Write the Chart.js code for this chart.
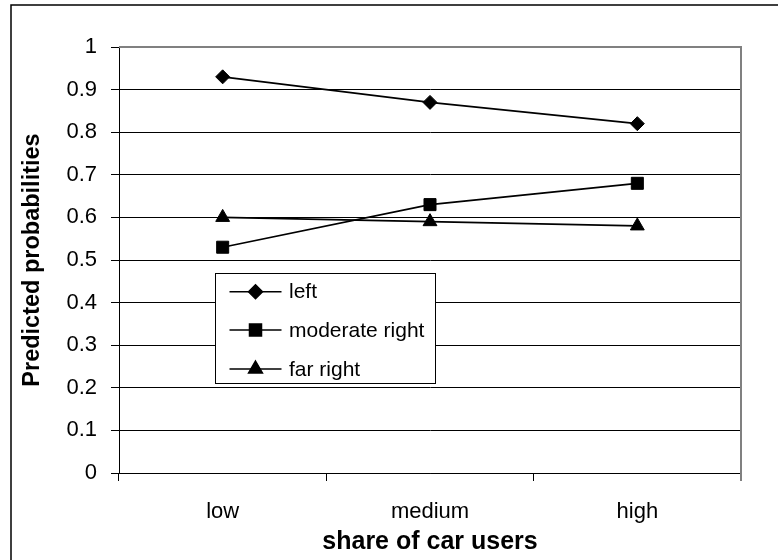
<!DOCTYPE html>
<html>
<head>
<meta charset="utf-8">
<script src="https://cdn.jsdelivr.net/npm/chart.js@4.4.0/dist/chart.umd.min.js"></script>
<style>
  html, body { margin: 0; padding: 0; background: #fff; }
  #wrap { width: 778px; height: 560px; position: relative; }
</style>
</head>
<body>
<div id="wrap"><canvas id="c" width="778" height="560"></canvas></div>
<script>
const categories = ['low', 'medium', 'high'];
const seriesNames = ['left', 'moderate right', 'far right'];
const leftValues = [0.93, 0.87, 0.82];
const moderateRightValues = [0.53, 0.63, 0.68];
const farRightValues = [0.60, 0.59, 0.58];
const yTicks = [0, 0.1, 0.2, 0.3, 0.4, 0.5, 0.6, 0.7, 0.8, 0.9, 1];
const xTitle = 'share of car users';
const yTitle = 'Predicted probabilities';

const FONT = "'Liberation Sans', Arial, sans-serif";

const frame = {
  id: 'frame',
  beforeDraw(chart) {
    const ctx = chart.ctx;
    ctx.save();
    ctx.fillStyle = '#fff';
    ctx.fillRect(0, 0, chart.width, chart.height);
    ctx.strokeStyle = '#000';
    ctx.lineWidth = 1.5;
    ctx.beginPath();
    ctx.moveTo(11, chart.height);
    ctx.lineTo(11, 5);
    ctx.lineTo(chart.width, 5);
    ctx.stroke();
    ctx.restore();
  },
  afterDraw(chart) {
    const ctx = chart.ctx;
    const a = chart.chartArea;
    ctx.save();
    ctx.strokeStyle = '#808080';
    ctx.lineWidth = 2;
    ctx.beginPath();
    ctx.moveTo(a.left, a.top);
    ctx.lineTo(a.right, a.top);
    ctx.lineTo(a.right, a.bottom + 8);
    ctx.stroke();
    ctx.restore();
  }
};

const legendBox = {
  id: 'legendBox',
  afterDatasetsDraw(chart) {
    const ctx = chart.ctx;
    const x0 = 215.5, y0 = 273.5, w = 220, h = 110;
    ctx.save();
    ctx.fillStyle = '#fff';
    ctx.fillRect(x0, y0, w, h);
    ctx.strokeStyle = '#000';
    ctx.lineWidth = 1;
    ctx.strokeRect(x0, y0, w, h);
    const rows = [291.7, 330, 369];
    chart.data.datasets.forEach((ds, i) => {
      const y = rows[i];
      ctx.strokeStyle = '#000';
      ctx.lineWidth = 1.5;
      ctx.beginPath();
      ctx.moveTo(229.5, y);
      ctx.lineTo(281.5, y);
      ctx.stroke();
      Chart.helpers.drawPoint(ctx, {
        pointStyle: ds.pointStyle,
        radius: ds.pointRadius,
        borderWidth: 1,
        rotation: 0
      }, 255.5, y);
      ctx.fillStyle = '#000';
      ctx.fill();
      ctx.font = '21px ' + FONT;
      ctx.textBaseline = 'middle';
      ctx.textAlign = 'left';
      ctx.fillStyle = '#000';
      ctx.fillText(ds.label, 289, y + 1);
    });
    ctx.restore();
  }
};

const mk = (label, data, style, r) => ({
  label, data,
  borderColor: '#000',
  backgroundColor: '#000',
  borderWidth: 1.7,
  pointStyle: style,
  pointRadius: r,
  pointHoverRadius: r,
  pointBackgroundColor: '#000',
  pointBorderColor: '#000',
  pointBorderWidth: 1,
  tension: 0,
  fill: false
});

new Chart(document.getElementById('c'), {
  type: 'line',
  data: {
    labels: categories,
    datasets: [
      mk(seriesNames[0], leftValues, 'rectRot', 7),
      mk(seriesNames[1], moderateRightValues, 'rect', 8.5),
      mk(seriesNames[2], farRightValues, 'triangle', 8)
    ]
  },
  options: {
    responsive: false,
    animation: false,
    devicePixelRatio: 1,
    layout: { padding: { left: 0, top: 47, right: 37, bottom: 0 } },
    plugins: {
      legend: { display: false },
      tooltip: { enabled: false },
      title: { display: false }
    },
    scales: {
      x: {
        type: 'category',
        offset: true,
        afterFit(s) { s.height = 87; },
        grid: {
          offset: true,
          drawOnChartArea: false,
          drawTicks: true,
          tickLength: 8,
          color: '#000',
          lineWidth: 1
        },
        border: { display: true, color: '#000', width: 1 },
        ticks: {
          color: '#000',
          font: { family: FONT, size: 22 },
          padding: 18,
          maxRotation: 0,
          autoSkip: false
        },
        title: {
          display: true,
          text: xTitle,
          color: '#000',
          font: { family: FONT, size: 25, weight: 'bold' },
          padding: { top: 0, bottom: 3 }
        }
      },
      y: {
        min: 0,
        max: 1,
        afterFit(s) { s.width = 119; },
        afterBuildTicks(s) { s.ticks = yTicks.map(v => ({ value: v })); },
        grid: {
          color: '#000',
          lineWidth: 1,
          tickLength: 8,
          drawTicks: true
        },
        border: { display: true, color: '#000', width: 1 },
        ticks: {
          color: '#000',
          font: { family: FONT, size: 22 },
          padding: 14,
          callback: v => String(Math.round(v * 10) / 10)
        },
        title: {
          display: true,
          text: yTitle,
          color: '#000',
          font: { family: FONT, size: 23.5, weight: 'bold' },
          padding: { top: 18, bottom: 0 }
        }
      }
    }
  },
  plugins: [frame, legendBox]
});
</script>
</body>
</html>
